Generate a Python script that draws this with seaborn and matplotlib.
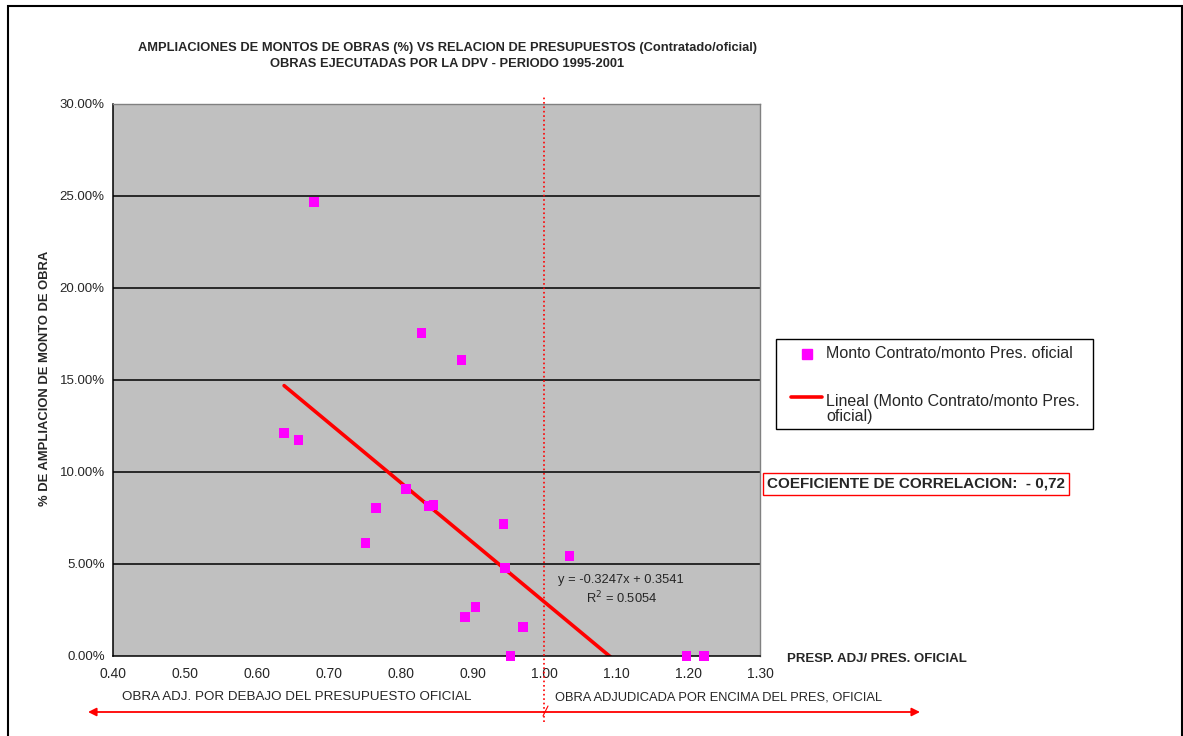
import numpy as np
import pandas as pd
import matplotlib
matplotlib.use('Agg')
import matplotlib.pyplot as plt
import seaborn as sns
from matplotlib.lines import Line2D
from matplotlib.patches import Rectangle

# ratio contracted / official budget and % increase of the works amount
ratio = [0.680, 0.829, 0.885, 0.638, 0.658, 0.808, 0.840, 0.846, 0.766, 0.751,
         0.943, 0.945, 0.904, 0.890, 0.970, 0.953, 1.035, 1.198, 1.222]
ampliacion = [0.2467, 0.1755, 0.1609, 0.1212, 0.1174, 0.0908, 0.0815, 0.0821, 0.0804, 0.0614,
              0.0717, 0.0478, 0.0266, 0.0212, 0.0158, 0.0000, 0.0543, 0.0000, 0.0000]

# linear trend reported on the chart
slope = -0.3247
intercept = 0.3541
r2 = 0.5054

x_ticks = [0.40, 0.50, 0.60, 0.70, 0.80, 0.90, 1.00, 1.10, 1.20, 1.30]
y_ticks = [0.00, 0.05, 0.10, 0.15, 0.20, 0.25, 0.30]

df = pd.DataFrame({'ratio': ratio, 'ampliacion': ampliacion})

sns.set_style('white')
plt.rcParams['font.family'] = ['Liberation Sans', 'DejaVu Sans']

W, H = 1183, 736
fig = plt.figure(figsize=(W / 100, H / 100), dpi=100)
ax = fig.add_axes([113 / W, 1 - 656 / H, (760 - 113) / W, (656 - 104) / H])
ax.set_facecolor('#C0C0C0')

def fx(px):
    return px / W

def fy(py):
    return 1 - py / H

# gridlines
for yv in y_ticks[1:-1]:
    ax.axhline(yv, color='black', lw=1.1, zorder=1)

sns.scatterplot(data=df, x='ratio', y='ampliacion', marker='s', color='#FF00FF',
                s=48, edgecolor='none', ax=ax, zorder=3, clip_on=False)

# trend line over the data range
xt = np.array([min(ratio), max(ratio)])
sns.lineplot(x=xt, y=slope * xt + intercept, color='red', lw=2.6, ax=ax, zorder=2)

ax.set_xlim(0.40, 1.30)
ax.set_ylim(0.0, 0.30)
ax.set_xticks(x_ticks)
ax.set_xticklabels([f'{v:.2f}' for v in x_ticks], fontsize=10)
ax.set_yticks(y_ticks)
ax.set_yticklabels([f'{v * 100:.2f}%' for v in y_ticks], fontsize=9.5)
ax.tick_params(axis='x', direction='out', length=3, width=1, color='black', pad=5)
ax.tick_params(axis='y', direction='out', length=5, width=1, color='black', pad=1)
ax.set_xlabel('')
ax.set_ylabel('')

for side in ['left', 'bottom']:
    ax.spines[side].set_color('black')
    ax.spines[side].set_linewidth(1.1)
for side in ['top', 'right']:
    ax.spines[side].set_color('#808080')
    ax.spines[side].set_linewidth(1)

# dotted reference line at 1.00
ax.axvline(1.0, ymin=-0.12, ymax=1.013, color='red', ls=':', lw=1.2, clip_on=False, zorder=4)

# equation
ax.text(1.107, 0.0413, f'y = {slope}x + {intercept}', fontsize=9.25, ha='center', va='center')
ax.text(1.107, 0.0313, f'R$^2$ = {r2}', fontsize=9.25, ha='center', va='center')

# title
fig.text(fx(447), fy(48), 'AMPLIACIONES DE MONTOS DE OBRAS (%) VS RELACION DE PRESUPUESTOS (Contratado/oficial)',
         ha='center', va='center', fontsize=9.25, fontweight='bold')
fig.text(fx(447), fy(64), 'OBRAS EJECUTADAS POR LA DPV - PERIODO 1995-2001',
         ha='center', va='center', fontsize=9.25, fontweight='bold')

fig.text(fx(45), fy(378), '% DE AMPLIACION DE MONTO DE OBRA', rotation=90, ha='center', va='center',
         fontsize=9.4, fontweight='bold')
fig.text(fx(787), fy(659), 'PRESP. ADJ/ PRES. OFICIAL', ha='left', va='center',
         fontsize=9.5, fontweight='bold')

# legend box
fig.add_artist(Rectangle((fx(776), fy(429)), fx(1093 - 776), (429 - 339) / H, fill=True, fc='white',
                         ec='black', lw=1, transform=fig.transFigure))
fig.add_artist(Line2D([fx(807)], [fy(354)], ls='none', marker='s', color='#FF00FF', markersize=6.5))
fig.add_artist(Line2D([fx(791), fx(822)], [fy(397), fy(397)], color='red', lw=2.6))
fig.text(fx(826), fy(354), 'Monto Contrato/monto Pres. oficial', ha='left', va='center', fontsize=11.5)
fig.text(fx(826), fy(409), 'Lineal (Monto Contrato/monto Pres.\noficial)', ha='left', va='center',
         fontsize=11.5, linespacing=1.0)

# correlation box
fig.text(fx(767), fy(484), 'COEFICIENTE DE CORRELACION:  - 0,72', ha='left', va='center',
         fontsize=11, fontweight='bold',
         bbox=dict(boxstyle='square,pad=0.25', fc='white', ec='red', lw=1))

# bottom annotations and arrow
fig.text(fx(122), fy(697), 'OBRA ADJ. POR DEBAJO DEL PRESUPUESTO OFICIAL', ha='left', va='center', fontsize=9.6)
fig.text(fx(555), fy(697), 'OBRA ADJUDICADA POR ENCIMA DEL PRES, OFICIAL', ha='left', va='center', fontsize=9.3)
fig.add_artist(Line2D([fx(543), fx(548)], [fy(716), fy(706)], color='red', lw=0.8))
ax.annotate('', xy=(fx(88), fy(712)), xytext=(fx(920), fy(712)), xycoords='figure fraction',
            textcoords='figure fraction',
            arrowprops=dict(arrowstyle='<|-|>', color='red', lw=1.3, mutation_scale=12, shrinkA=0, shrinkB=0))

# outer frame
fig.add_artist(Rectangle((fx(8), fy(760)), fx(1182 - 8), (760 - 6) / H, fill=False,
                         ec='black', lw=1.5, transform=fig.transFigure, clip_on=False))

fig.savefig('out.png', dpi=100)
